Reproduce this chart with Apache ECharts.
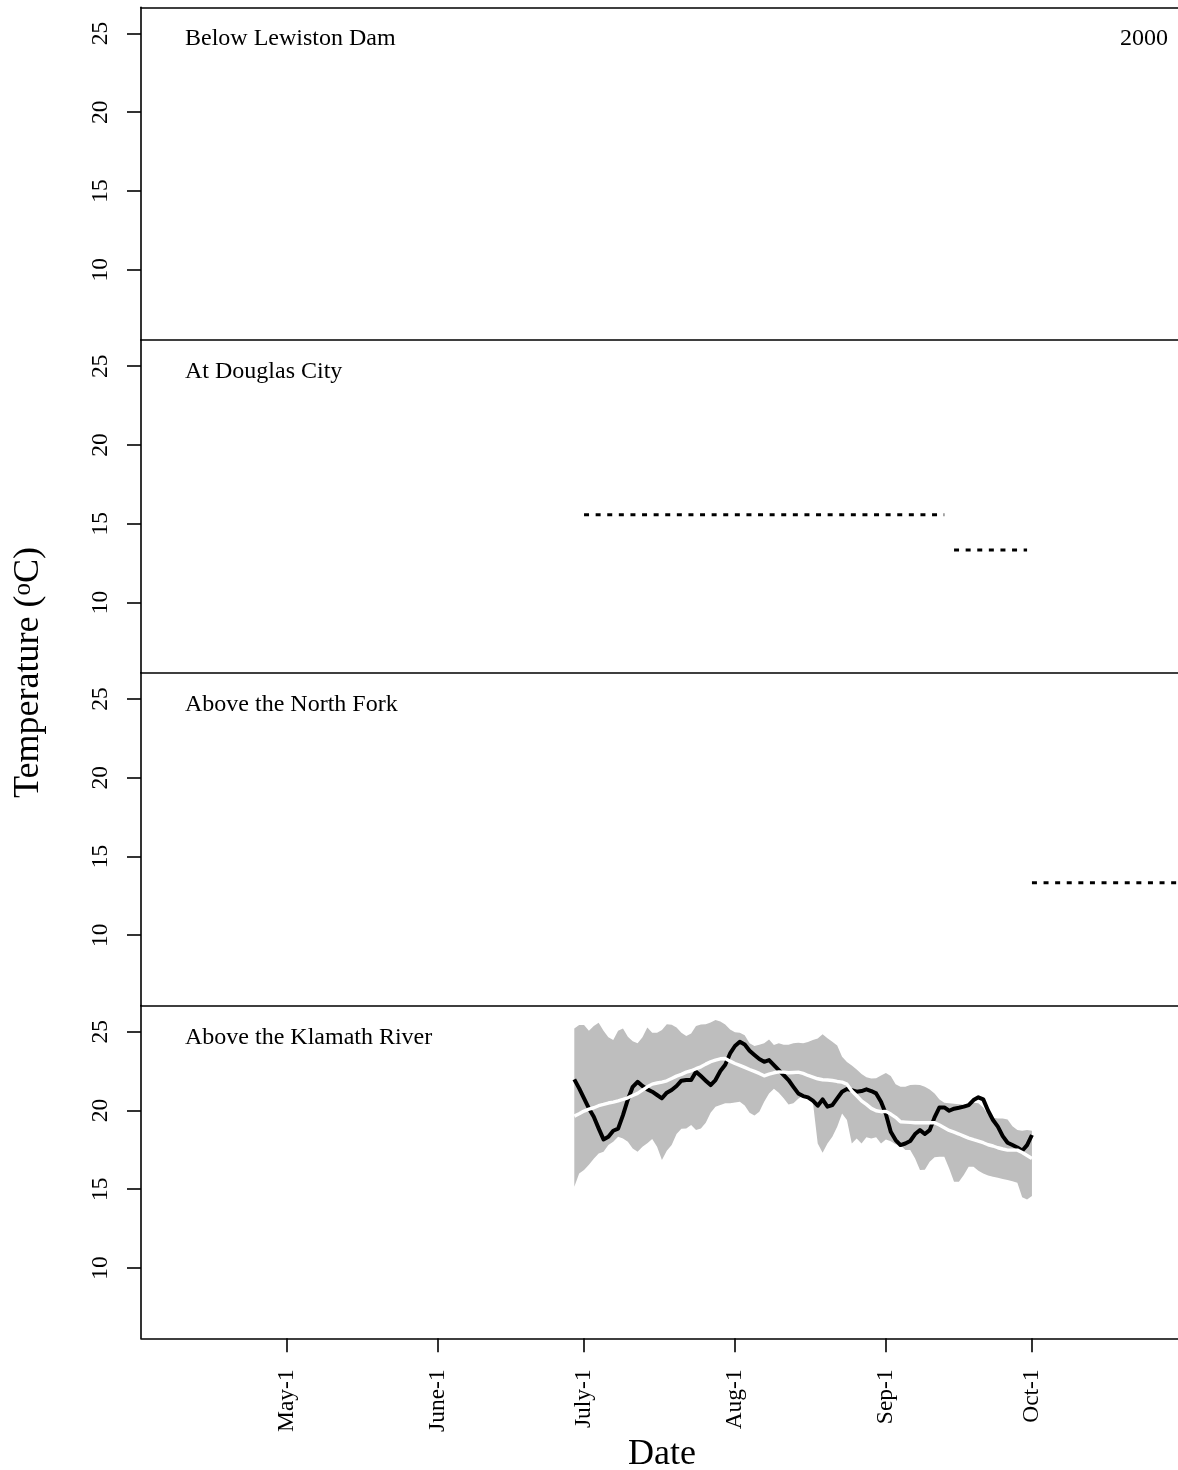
<!DOCTYPE html>
<html>
<head>
<meta charset="utf-8">
<script src="https://cdn.jsdelivr.net/npm/echarts@6/dist/echarts.min.js"></script>
<style>
html,body{margin:0;padding:0;background:#fff;overflow:hidden;}
#chart{width:1178px;height:1470px;}
</style>
</head>
<body>
<div id="chart"></div>
<script>
// x = days since April 1, 2000
const tickDays = [30, 61, 91, 122, 153, 183];
const tickLabels = ['May-1', 'June-1', 'July-1', 'Aug-1', 'Sep-1', 'Oct-1'];
const yTicks = [10, 15, 20, 25];
const panelNames = ['Below Lewiston Dam', 'At Douglas City', 'Above the North Fork', 'Above the Klamath River'];
const yearLabel = '2000';

// threshold segments (dashed)
const douglasStart = [91, 167];
const douglasEnd = [165, 182];
const douglasValue = [15.56, 13.33];
const northForkStart = [183];
const northForkEnd = [213];
const northForkValue = [13.33];

// Above the Klamath River, daily from June 29 (day 89) to Oct 1 (day 183)
const klamathFirstDay = 89;
const klamath2000 = [21.97,21.4,20.77,20.13,19.6,18.86,18.16,18.33,18.71,18.84,
  19.7,20.7,21.5,21.82,21.55,21.34,21.19,20.98,20.77,21.13,
  21.3,21.55,21.89,21.93,21.93,22.46,22.18,21.89,21.61,21.93,
  22.5,22.9,23.62,24.09,24.36,24.19,23.79,23.52,23.26,23.09,
  23.2,22.88,22.56,22.25,21.93,21.5,21.08,20.91,20.83,20.62,
  20.3,20.7,20.24,20.34,20.77,21.19,21.36,21.29,21.19,21.23,
  21.34,21.23,21.08,20.55,19.77,18.65,18.12,17.8,17.9,18.06,
  18.5,18.75,18.5,18.75,19.56,20.19,20.19,19.98,20.11,20.17,
  20.24,20.34,20.66,20.83,20.7,19.98,19.39,18.97,18.37,17.95,
  17.8,17.65,17.44,17.8,18.44];
const klamathMean = [19.64,19.79,19.96,20.08,20.17,20.3,20.38,20.47,20.53,20.61,
  20.7,20.8,20.95,21.08,21.29,21.5,21.67,21.74,21.8,21.88,
  22.03,22.18,22.29,22.43,22.52,22.65,22.77,22.94,23.09,23.2,
  23.28,23.3,23.13,22.98,22.86,22.73,22.6,22.48,22.35,22.2,
  22.31,22.39,22.45,22.43,22.39,22.41,22.43,22.35,22.22,22.12,
  22.01,21.95,21.93,21.9,21.84,21.8,21.67,21.23,20.93,20.61,
  20.38,20.13,19.98,19.92,19.94,19.77,19.56,19.28,19.26,19.24,
  19.22,19.22,19.22,19.22,19.22,19.07,18.9,18.73,18.62,18.5,
  18.37,18.24,18.14,18.05,17.95,17.82,17.74,17.63,17.55,17.48,
  17.48,17.48,17.33,17.14,16.95];
const klamathMax = [25.2,25.42,25.42,25.06,25.36,25.57,25.06,24.64,24.47,25.06,
  25.2,24.68,24.4,24.26,24.64,25.27,24.93,24.93,25.1,25.48,
  25.44,25.27,24.93,24.72,24.89,25.36,25.46,25.48,25.59,25.74,
  25.65,25.45,25.14,24.97,24.93,24.78,24.26,24.09,24.17,24.26,
  24.51,24.15,24.26,24.17,24.17,24.26,24.3,24.26,24.34,24.47,
  24.57,24.83,24.59,24.36,24.13,23.41,23.07,22.86,22.6,22.31,
  22.1,22.03,22.05,22.22,22.37,22.18,21.67,21.5,21.5,21.61,
  21.63,21.61,21.5,21.33,21.08,20.7,20.49,20.45,20.42,20.4,
  20.36,20.36,20.49,20.45,20.19,19.7,19.53,19.49,19.49,19.43,
  19.0,18.75,18.71,18.75,18.71];
const klamathMin = [15.15,16.0,16.21,16.55,16.93,17.27,17.38,17.8,18.01,18.33,
  18.22,18.01,17.59,17.38,17.69,17.91,18.18,17.69,16.85,17.44,
  17.8,18.5,18.84,18.86,19.07,18.75,18.86,19.22,19.85,20.24,
  20.34,20.45,20.45,20.51,20.55,20.32,19.85,19.68,19.92,20.55,
  21.08,21.38,21.12,20.78,20.38,20.45,20.74,20.95,20.83,20.55,
  17.9,17.31,17.9,18.33,18.96,19.81,19.39,17.9,18.22,17.9,
  18.29,18.22,18.3,17.9,18.16,18.05,17.86,17.8,17.48,17.48,
  16.95,16.21,16.23,16.74,17.02,17.06,17.06,16.32,15.47,15.47,
  15.9,16.42,16.42,16.17,16.0,15.87,15.79,15.73,15.64,15.58,
  15.51,15.41,14.48,14.35,14.56];

const FONT = '"Liberation Serif", "Times New Roman", serif';
const GL = 141, GW = 1041.6, GT0 = 7.3, GH = 332.75;
const YMIN = 5.53, YMAX = 26.66, XMIN = 0, XMAX = 213;
const LABEL_DY = 31.8;

const pairs = (arr) => arr.map((v, i) => [klamathFirstDay + i, v]);
const segs = (s, e, v) => {
  const out = [];
  for (let i = 0; i < s.length; i++) { out.push([s[i], v[i]], [e[i], v[i]]); if (i < s.length - 1) out.push([e[i], null]); }
  return out;
};

const grids = [], xAxes = [], yAxes = [], series = [], graphics = [];
for (let i = 0; i < 4; i++) {
  grids.push({left: GL, top: GT0 + i * GH, width: GW, height: GH, containLabel: false});
  xAxes.push({gridIndex: i, type: 'value', min: XMIN, max: XMAX, position: 'top', z: 10,
    axisLine: {show: true, onZero: false, lineStyle: {color: '#000', width: 1.6}},
    axisTick: {show: false}, axisLabel: {show: false}, splitLine: {show: false}});
  yAxes.push({gridIndex: i, type: 'value', min: YMIN, max: YMAX, position: 'left', z: 10,
    axisLine: {show: true, onZero: false, lineStyle: {color: '#000', width: 1.6}},
    axisTick: {show: true, length: 14, lineStyle: {color: '#000', width: 1.6}, customValues: yTicks},
    axisLabel: {show: true, customValues: yTicks, rotate: 90, margin: 28, color: '#000',
      fontFamily: FONT, fontSize: 23.5},
    splitLine: {show: false}});
  graphics.push({type: 'text', x: 185, y: GT0 + i * GH + LABEL_DY, silent: true,
    style: {text: panelNames[i], fill: '#000', fontFamily: FONT, fontSize: 24,
      align: 'left', verticalAlign: 'middle', textAlign: 'left', textVerticalAlign: 'middle'}});
}
xAxes.push({gridIndex: 3, type: 'value', min: XMIN, max: XMAX, position: 'bottom', z: 10,
  axisLine: {show: true, onZero: false, lineStyle: {color: '#000', width: 1.6}},
  axisTick: {show: true, length: 14, lineStyle: {color: '#000', width: 1.6}, customValues: tickDays},
  axisLabel: {show: true, customValues: tickDays, rotate: 90, margin: 31, color: '#000',
    fontFamily: FONT, fontSize: 23.5,
    formatter: (v) => { const k = tickDays.indexOf(Math.round(v)); return k >= 0 ? tickLabels[k] : ''; }},
  splitLine: {show: false}});

const dashStyle = {color: '#000', width: 3, type: [5, 6.6], cap: 'butt'};
series.push({type: 'line', xAxisIndex: 1, yAxisIndex: 1, data: segs(douglasStart, douglasEnd, douglasValue),
  showSymbol: false, symbol: 'none', connectNulls: false, lineStyle: dashStyle, silent: true, animation: false});
series.push({type: 'line', xAxisIndex: 2, yAxisIndex: 2, data: segs(northForkStart, northForkEnd, northForkValue),
  showSymbol: false, symbol: 'none', lineStyle: dashStyle, silent: true, animation: false});

// band: one polygon through the max values forward and the min values backward
const bandData = klamathMax.map((v, i) => [klamathFirstDay + i, klamathMin[i], v]);
series.push({type: 'custom', xAxisIndex: 3, yAxisIndex: 3, data: bandData, z: 1, silent: true, animation: false,
  encode: {x: 0, y: [1, 2]},
  renderItem: (params, api) => {
    if (params.dataIndex !== 0) return null;
    const top = [], bottom = [];
    for (let i = 0; i < bandData.length; i++) {
      top.push(api.coord([bandData[i][0], bandData[i][2]]));
      bottom.push(api.coord([bandData[i][0], bandData[i][1]]));
    }
    return {type: 'polygon', shape: {points: top.concat(bottom.reverse())},
      style: {fill: '#bebebe', stroke: null}};
  }});
series.push({type: 'line', xAxisIndex: 3, yAxisIndex: 3, data: pairs(klamath2000), symbol: 'none',
  lineStyle: {color: '#000', width: 4, join: 'round'}, silent: true, animation: false, z: 3});
series.push({type: 'line', xAxisIndex: 3, yAxisIndex: 3, data: pairs(klamathMean), symbol: 'none',
  lineStyle: {color: '#fff', width: 3.4, join: 'round'}, silent: true, animation: false, z: 4});

graphics.push({type: 'text', x: 1168, y: GT0 + LABEL_DY, silent: true,
  style: {text: yearLabel, fill: '#000', fontFamily: FONT, fontSize: 24,
    align: 'right', verticalAlign: 'middle', textAlign: 'right', textVerticalAlign: 'middle'}});
graphics.push({type: 'text', x: 662, y: 1455, silent: true,
  style: {text: 'Date', fill: '#000', fontFamily: FONT, fontSize: 36,
    align: 'center', verticalAlign: 'middle', textAlign: 'center', textVerticalAlign: 'middle'}});
graphics.push({type: 'text', x: 29, y: 672.5, rotation: Math.PI / 2, silent: true,
  style: {text: 'Temperature ({sup|o}C)', fill: '#000', fontFamily: FONT, fontSize: 36,
    align: 'center', verticalAlign: 'middle', textAlign: 'center', textVerticalAlign: 'middle',
    rich: {sup: {fontFamily: FONT, fontSize: 25, verticalAlign: 'top', fill: '#000'}}}});

const chart = echarts.init(document.getElementById('chart'), null, {renderer: 'canvas'});
chart.setOption({
  backgroundColor: '#fff',
  animation: false,
  grid: grids, xAxis: xAxes, yAxis: yAxes, series: series,
  graphic: graphics
});
</script>
</body>
</html>
